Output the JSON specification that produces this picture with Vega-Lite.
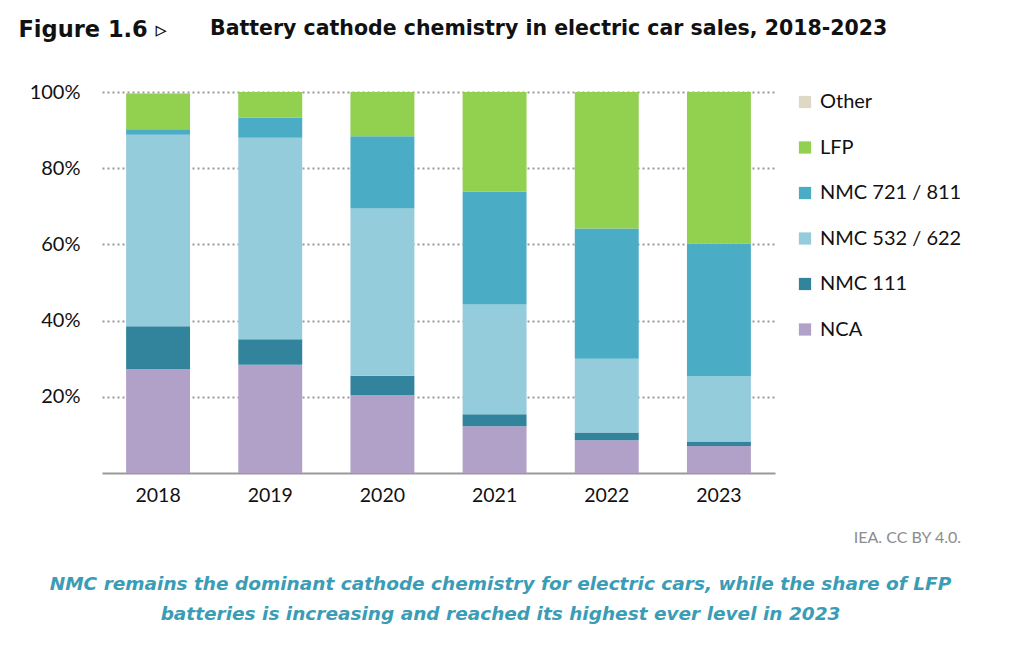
{
  "$schema": "https://vega.github.io/schema/vega-lite/v6.json",
  "autosize": {"type": "none"},
  "padding": {"left": 102, "top": 92, "right": 249, "bottom": 176},
  "width": 673,
  "height": 381,
  "background": "white",
  "title": {
    "text": "Battery cathode chemistry in electric car sales, 2018-2023",
    "anchor": "start",
    "frame": "group",
    "dx": 108,
    "offset": -21,
    "font": "DejaVu Sans",
    "fontSize": 20.5,
    "fontWeight": "bold",
    "color": "#111111"
  },
  "data": {
    "values": [
      {"year": "2018", "chem": "NCA", "ord": 1, "share": 27.2},
      {"year": "2018", "chem": "NMC 111", "ord": 2, "share": 11.3},
      {"year": "2018", "chem": "NMC 532 / 622", "ord": 3, "share": 50.3},
      {"year": "2018", "chem": "NMC 721 / 811", "ord": 4, "share": 1.4},
      {"year": "2018", "chem": "LFP", "ord": 5, "share": 9.4},
      {"year": "2018", "chem": "Other", "ord": 6, "share": 0},
      {"year": "2019", "chem": "NCA", "ord": 1, "share": 28.4},
      {"year": "2019", "chem": "NMC 111", "ord": 2, "share": 6.7},
      {"year": "2019", "chem": "NMC 532 / 622", "ord": 3, "share": 52.9},
      {"year": "2019", "chem": "NMC 721 / 811", "ord": 4, "share": 5.3},
      {"year": "2019", "chem": "LFP", "ord": 5, "share": 6.7},
      {"year": "2019", "chem": "Other", "ord": 6, "share": 0},
      {"year": "2020", "chem": "NCA", "ord": 1, "share": 20.5},
      {"year": "2020", "chem": "NMC 111", "ord": 2, "share": 5.0},
      {"year": "2020", "chem": "NMC 532 / 622", "ord": 3, "share": 43.9},
      {"year": "2020", "chem": "NMC 721 / 811", "ord": 4, "share": 19.0},
      {"year": "2020", "chem": "LFP", "ord": 5, "share": 11.6},
      {"year": "2020", "chem": "Other", "ord": 6, "share": 0},
      {"year": "2021", "chem": "NCA", "ord": 1, "share": 12.3},
      {"year": "2021", "chem": "NMC 111", "ord": 2, "share": 3.1},
      {"year": "2021", "chem": "NMC 532 / 622", "ord": 3, "share": 28.8},
      {"year": "2021", "chem": "NMC 721 / 811", "ord": 4, "share": 29.7},
      {"year": "2021", "chem": "LFP", "ord": 5, "share": 26.1},
      {"year": "2021", "chem": "Other", "ord": 6, "share": 0},
      {"year": "2022", "chem": "NCA", "ord": 1, "share": 8.6},
      {"year": "2022", "chem": "NMC 111", "ord": 2, "share": 2.0},
      {"year": "2022", "chem": "NMC 532 / 622", "ord": 3, "share": 19.4},
      {"year": "2022", "chem": "NMC 721 / 811", "ord": 4, "share": 34.2},
      {"year": "2022", "chem": "LFP", "ord": 5, "share": 35.8},
      {"year": "2022", "chem": "Other", "ord": 6, "share": 0},
      {"year": "2023", "chem": "NCA", "ord": 1, "share": 7.1},
      {"year": "2023", "chem": "NMC 111", "ord": 2, "share": 1.2},
      {"year": "2023", "chem": "NMC 532 / 622", "ord": 3, "share": 17.1},
      {"year": "2023", "chem": "NMC 721 / 811", "ord": 4, "share": 34.8},
      {"year": "2023", "chem": "LFP", "ord": 5, "share": 39.8},
      {"year": "2023", "chem": "Other", "ord": 6, "share": 0}
    ]
  },
  "mark": {"type": "bar"},
  "encoding": {
    "x": {
      "field": "year",
      "type": "nominal",
      "scale": {"paddingInner": 0.43, "paddingOuter": 0.215},
      "axis": {
        "labelAngle": 0,
        "labelFont": "Lato",
        "labelFontSize": 19.5,
        "labelColor": "#111111",
        "labelPadding": 13,
        "ticks": false,
        "domainColor": "#9a9a9a",
        "domainWidth": 2,
        "title": [
          "NMC remains the dominant cathode chemistry for electric cars, while the share of LFP",
          "batteries is increasing and reached its highest ever level in 2023"
        ],
        "titleFont": "DejaVu Sans",
        "titleFontSize": 18.5,
        "titleFontStyle": "italic",
        "titleFontWeight": "bold",
        "titleColor": "#3a9cb5",
        "titleLineHeight": 30,
        "titleX": 398,
        "titleY": 101,
        "titleAlign": "center",
        "titleBaseline": "top"
      }
    },
    "y": {
      "field": "share",
      "type": "quantitative",
      "stack": "zero",
      "scale": {"domain": [0, 100], "nice": false},
      "axis": {
        "values": [20, 40, 60, 80, 100],
        "labelExpr": "datum.value + '%'",
        "labelFont": "Lato",
        "labelFontSize": 20,
        "labelColor": "#111111",
        "labelPadding": 22,
        "ticks": false,
        "domain": false,
        "grid": true,
        "gridColor": "#999999",
        "gridDash": [2, 3],
        "gridWidth": 2,
        "title": "Figure 1.6   ▹",
        "titleAngle": 0,
        "titleX": -84,
        "titleY": -63,
        "titleAlign": "left",
        "titleBaseline": "middle",
        "titleFont": "DejaVu Sans",
        "titleFontSize": 22.5,
        "titleFontWeight": "bold",
        "titleColor": "#111111"
      }
    },
    "color": {
      "field": "chem",
      "type": "nominal",
      "scale": {
        "domain": ["Other", "LFP", "NMC 721 / 811", "NMC 532 / 622", "NMC 111", "NCA"],
        "range": ["#ddd9c4", "#92d050", "#4bacc6", "#95ccdc", "#31849b", "#b1a0c7"]
      },
      "legend": {
        "orient": "none",
        "legendX": 683,
        "legendY": -10,
        "padding": 10,
        "symbolType": "square",
        "symbolSize": 150,
        "symbolStrokeWidth": 0,
        "labelFont": "Lato",
        "labelFontSize": 20,
        "labelColor": "#111111",
        "labelOffset": 5,
        "rowPadding": 25.5,
        "title": "IEA. CC BY 4.0.",
        "titleOrient": "bottom",
        "titleAnchor": "end",
        "titlePadding": 190,
        "titleFont": "Lato",
        "titleFontSize": 16,
        "titleFontWeight": "normal",
        "titleColor": "#8c8c8c"
      }
    },
    "order": {"field": "ord", "type": "quantitative"}
  },
  "config": {"view": {"stroke": null}}
}
